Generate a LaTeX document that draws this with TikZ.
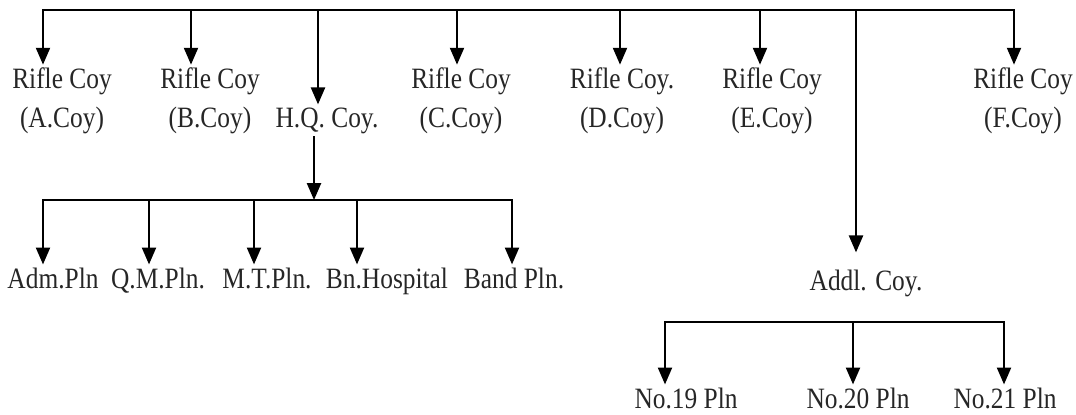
\documentclass[tikz,border=0pt]{standalone}
\usepackage{fontspec}
\setmainfont{Liberation Serif}[FakeStretch=0.86]
\usetikzlibrary{arrows.meta}
\tikzset{
  link/.style={line width=1.4pt, -{Triangle[width=10pt,length=12pt]}},
  bus/.style={line width=1.4pt, line cap=rect},
  unit/.style={align=center, inner sep=2pt, text=black!85,
    font=\fontsize{21}{28}\selectfont},
  unit-base/.style={unit, anchor=base}
}

\begin{document}
\begin{tikzpicture}[x=0.025cm, y=-0.025cm]
  \useasboundingbox (0,0) rectangle (1076,414);
  % Companies
  \node[unit] (a) at (62,101) {Rifle Coy\\(A.Coy)};
  \node[unit] (b) at (210,101) {Rifle Coy\\(B.Coy)};
  \node[unit-base] (hq) at (327,127) {H.Q. Coy.};
  \node[unit] (c) at (461,101) {Rifle Coy\\(C.Coy)};
  \node[unit] (d) at (622,101) {Rifle Coy.\\(D.Coy)};
  \node[unit] (e) at (772,101) {Rifle Coy\\(E.Coy)};
  \node[unit] (f) at (1023,101) {Rifle Coy\\(F.Coy)};
  \node[unit-base] (addl) at (866,290) {Addl. Coy.};
  % Platoons of H.Q. Coy.
  \node[unit-base] (adm) at (53,288) {Adm.Pln};
  \node[unit-base] (qm) at (158,288) {Q.M.Pln.};
  \node[unit-base] (mt) at (267,288) {M.T.Pln.};
  \node[unit-base] (bnh) at (387,288) {Bn.Hospital};
  \node[unit-base] (band) at (514,288) {Band Pln.};
  % Platoons of Addl. Coy.
  \node[unit-base] (p19) at (686,408) {No.19 Pln};
  \node[unit-base] (p20) at (858,408) {No.20 Pln};
  \node[unit-base] (p21) at (1005,408) {No.21 Pln};

  % Top bus
  \coordinate (top-a) at (43,10);
  \coordinate (top-b) at (191,10);
  \coordinate (top-hq) at (318,10);
  \coordinate (top-c) at (457,10);
  \coordinate (top-d) at (620,10);
  \coordinate (top-e) at (760,10);
  \coordinate (top-addl) at (856,10);
  \coordinate (top-f) at (1014,10);
  \draw[bus] (top-a) -- (top-f);
  \foreach \u in {a,b,hq,c,d,e,f}
    \draw[link] (top-\u) -- (top-\u |- \u.north);
  \draw[link, shorten >=10pt] (top-addl) -- (top-addl |- addl.north);

  % H.Q. Coy. bus
  \coordinate (mid-hq) at (314,200);
  \draw[link] (hq.south -| mid-hq) -- (mid-hq);
  \coordinate (mid-adm) at (43,200);
  \coordinate (mid-qm) at (149,200);
  \coordinate (mid-mt) at (254,200);
  \coordinate (mid-bnh) at (357,200);
  \coordinate (mid-band) at (512,200);
  \draw[bus] (mid-adm) -- (mid-band);
  \foreach \u in {adm,qm,mt,bnh,band}
    \draw[link] (mid-\u) -- (mid-\u |- \u.north);

  % Addl. Coy. bus
  \coordinate (low-p19) at (665,322);
  \coordinate (low-p20) at (853,322);
  \coordinate (low-p21) at (1004,322);
  \draw[bus] (low-p19) -- (low-p21);
  \foreach \u in {p19,p20,p21}
    \draw[link] (low-\u) -- (low-\u |- \u.north);
\end{tikzpicture}
\end{document}
